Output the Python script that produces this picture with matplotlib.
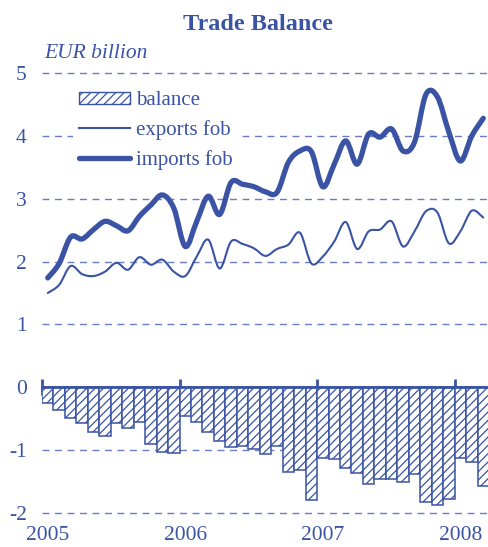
import numpy as np
import matplotlib
matplotlib.use('Agg')
import matplotlib.pyplot as plt
from matplotlib.path import Path
from matplotlib.patches import PathPatch, Patch
from matplotlib.lines import Line2D

plt.rcParams['font.family'] = ['Liberation Serif', 'DejaVu Serif']
plt.rcParams['hatch.linewidth'] = 0.9

# ---- data (monthly, Jan 2005 - Mar 2008) ----
years = ['2005', '2006', '2007', '2008']
months = [f'{y}-{m:02d}' for y in (2005, 2006, 2007) for m in range(1, 13)] + \
         ['2008-01', '2008-02', '2008-03']

balance = [-0.25, -0.36, -0.49, -0.57, -0.71, -0.77, -0.57, -0.65, -0.56, -0.91, -1.03, -1.05,
           -0.46, -0.56, -0.71, -0.86, -0.95, -0.94, -0.98, -1.06, -0.93, -1.34, -1.31, -1.79,
           -1.12, -1.14, -1.29, -1.36, -1.54, -1.46, -1.46, -1.50, -1.38, -1.82, -1.87, -1.77,
           -1.12, -1.19, -1.57]

exports = [1.50, 1.63, 1.93, 1.80, 1.77, 1.84, 1.98, 1.87, 2.07, 1.95, 2.03, 1.84,
           1.77, 2.08, 2.35, 1.89, 2.32, 2.28, 2.21, 2.09, 2.20, 2.27, 2.46, 1.97,
           2.08, 2.32, 2.63, 2.20, 2.48, 2.51, 2.64, 2.24, 2.48, 2.80, 2.78, 2.29,
           2.48, 2.81, 2.70]

imports = [1.74, 1.97, 2.39, 2.36, 2.51, 2.64, 2.57, 2.49, 2.72, 2.90, 3.06, 2.85,
           2.24, 2.64, 3.04, 2.75, 3.26, 3.23, 3.19, 3.11, 3.10, 3.58, 3.76, 3.75,
           3.19, 3.55, 3.92, 3.55, 4.03, 3.98, 4.11, 3.76, 3.90, 4.66, 4.62, 4.06,
           3.60, 4.00, 4.28]

yticks = [-2, -1, 0, 1, 2, 3, 4, 5]

BLUE = '#3a53a4'
GRID = '#6a7ec2'


def smooth_path(xs, ys):
    """Bezier path (Excel-style smoothed line) passing through the data points."""
    xs = np.asarray(xs, float)
    ys = np.asarray(ys, float)
    n = len(xs)
    verts = [(xs[0], ys[0])]
    codes = [Path.MOVETO]
    for i in range(n - 1):
        i0 = max(i - 1, 0)
        i3 = min(i + 2, n - 1)
        c1 = (xs[i] + (xs[i + 1] - xs[i0]) / 6.0, ys[i] + (ys[i + 1] - ys[i0]) / 6.0)
        c2 = (xs[i + 1] - (xs[i3] - xs[i]) / 6.0, ys[i + 1] - (ys[i3] - ys[i]) / 6.0)
        verts += [c1, c2, (xs[i + 1], ys[i + 1])]
        codes += [Path.CURVE4] * 3
    return Path(verts, codes)


W, H = 489, 547
fig = plt.figure(figsize=(W / 100, H / 100), dpi=100)
ax = fig.add_axes([42 / W, 34 / H, 447 / W, 440 / H])

x = np.arange(len(months))

ax.bar(x, balance, width=1.0, facecolor='white', edgecolor=BLUE,
       linewidth=1.1, hatch='////', zorder=2)

ax.add_patch(PathPatch(smooth_path(x, exports), facecolor='none', edgecolor=BLUE,
                       linewidth=1.5, capstyle='round', joinstyle='round', zorder=3))
ax.add_patch(PathPatch(smooth_path(x, imports), facecolor='none', edgecolor=BLUE,
                       linewidth=3.8, capstyle='round', joinstyle='round', zorder=3))

ax.set_xlim(-0.5, len(months) - 0.5)
ax.set_ylim(-2, 5)

# grid
ax.set_yticks(yticks)
ax.set_yticklabels([str(t) for t in yticks])
ax.yaxis.grid(True, color=GRID, linestyle=(0, (5, 4)), linewidth=1.0)
for gl in ax.get_ygridlines():
    gl.set_clip_on(False)
ax.set_axisbelow(True)
ax.tick_params(axis='y', length=0, pad=11, labelsize=15.5, labelcolor=BLUE)

for s in ['left', 'right', 'top']:
    ax.spines[s].set_visible(False)
ax.spines['bottom'].set_position(('data', 0))
ax.spines['bottom'].set_color(BLUE)
ax.spines['bottom'].set_linewidth(2.0)
ax.spines['bottom'].set_zorder(4)

year_start = [months.index(f'{y}-01') for y in years]
ax.set_xticks([p - 0.5 for p in year_start])
ax.set_xticklabels([])
ax.tick_params(axis='x', direction='inout', length=11, width=2, color=BLUE)

sec = ax.secondary_xaxis(0)
sec.set_xticks(year_start)
sec.set_xticklabels(years)
sec.tick_params(length=0, pad=9.5, labelsize=15.5, labelcolor=BLUE)
sec.spines['bottom'].set_visible(False)

# titles
fig.text(258 / W, 1 - 24 / H, 'Trade Balance', ha='center', va='center',
         fontsize=17.5, fontweight='bold', color=BLUE)
fig.text(44 / W, 1 - 53 / H, 'EUR billion', ha='left', va='center',
         fontsize=15.5, fontstyle='italic', color=BLUE)

handles = [Patch(facecolor='white', edgecolor=BLUE, hatch='////', linewidth=1.0),
           Line2D([], [], color=BLUE, linewidth=1.5),
           Line2D([], [], color=BLUE, linewidth=3.8, solid_capstyle='round')]
leg = fig.legend(handles, ['balance', 'exports fob', 'imports fob'],
                 loc='upper left', bbox_to_anchor=(73 / W, 1 - 85 / H),
                 fontsize=15, frameon=True, fancybox=False, framealpha=1.0,
                 edgecolor='none', facecolor='white', borderpad=0.3,
                 handlelength=2.45, handleheight=0.5, handletextpad=0.29,
                 labelspacing=0.47, borderaxespad=0)
for t in leg.get_texts():
    t.set_color(BLUE)

fig.savefig('out.png', dpi=100)
